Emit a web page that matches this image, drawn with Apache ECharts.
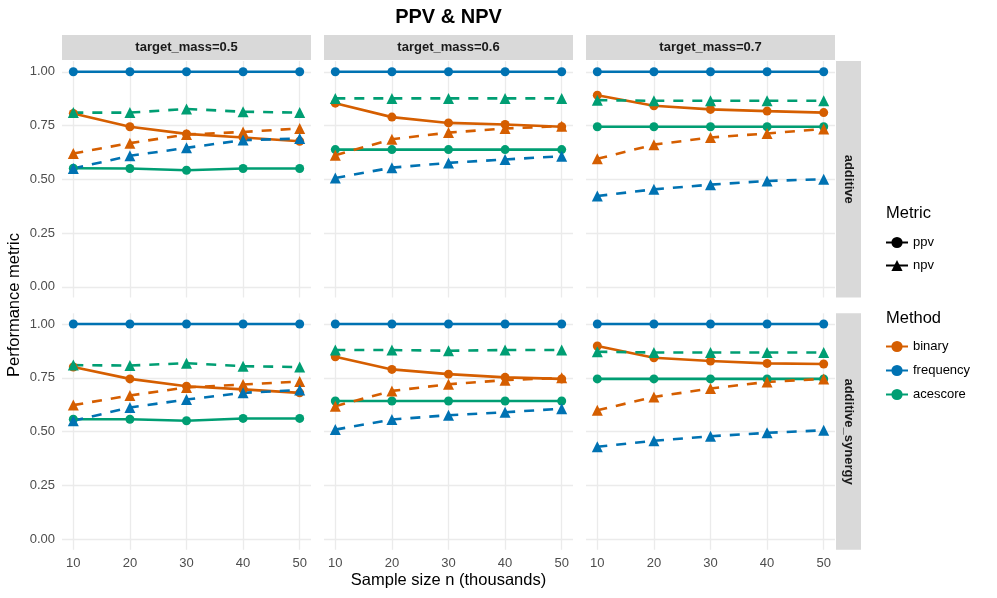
<!DOCTYPE html>
<html><head><meta charset="utf-8">
<script src="https://cdn.jsdelivr.net/npm/echarts@6/dist/echarts.min.js"></script>
<style>html,body{margin:0;padding:0;background:#fff}#c{width:997px;height:598px}</style>
</head><body><div id="c"></div>
<script>
const sampleSizes = [10, 20, 30, 40, 50];
const xTicks = [10, 20, 30, 40, 50];
const yTicks = [0, 0.25, 0.5, 0.75, 1.0];
const colLabels = ['target_mass=0.5', 'target_mass=0.6', 'target_mass=0.7'];
const rowLabels = ['additive', 'additive_synergy'];
const methods = ['binary', 'frequency', 'acescore'];
const metrics = ['ppv', 'npv'];

// additive, target_mass=0.5
const add05_binary_ppv = [0.806, 0.744, 0.711, 0.694, 0.677];
const add05_frequency_ppv = [1, 1, 1, 1, 1];
const add05_acescore_ppv = [0.551, 0.550, 0.542, 0.550, 0.550];
const add05_binary_npv = [0.620, 0.668, 0.708, 0.720, 0.736];
const add05_frequency_npv = [0.550, 0.609, 0.646, 0.682, 0.689];
const add05_acescore_npv = [0.810, 0.810, 0.827, 0.814, 0.810];
// additive, target_mass=0.6
const add06_binary_ppv = [0.854, 0.789, 0.762, 0.755, 0.744];
const add06_frequency_ppv = [1, 1, 1, 1, 1];
const add06_acescore_ppv = [0.638, 0.638, 0.638, 0.638, 0.638];
const add06_binary_npv = [0.612, 0.686, 0.717, 0.736, 0.747];
const add06_frequency_npv = [0.506, 0.554, 0.576, 0.592, 0.607];
const add06_acescore_npv = [0.876, 0.876, 0.876, 0.876, 0.876];
// additive, target_mass=0.7
const add07_binary_ppv = [0.891, 0.842, 0.825, 0.817, 0.810];
const add07_frequency_ppv = [1, 1, 1, 1, 1];
const add07_acescore_ppv = [0.744, 0.744, 0.744, 0.744, 0.744];
const add07_binary_npv = [0.595, 0.661, 0.694, 0.713, 0.734];
const add07_frequency_npv = [0.422, 0.453, 0.475, 0.492, 0.500];
const add07_acescore_npv = [0.868, 0.865, 0.865, 0.865, 0.865];
// additive_synergy, target_mass=0.5
const syn05_binary_ppv = [0.800, 0.745, 0.711, 0.696, 0.680];
const syn05_frequency_ppv = [1, 1, 1, 1, 1];
const syn05_acescore_ppv = [0.557, 0.557, 0.550, 0.561, 0.561];
const syn05_binary_npv = [0.623, 0.668, 0.705, 0.719, 0.733];
const syn05_frequency_npv = [0.550, 0.612, 0.649, 0.680, 0.693];
const syn05_acescore_npv = [0.809, 0.807, 0.818, 0.804, 0.800];
// additive_synergy, target_mass=0.6
const syn06_binary_ppv = [0.848, 0.789, 0.767, 0.752, 0.745];
const syn06_frequency_ppv = [1, 1, 1, 1, 1];
const syn06_acescore_ppv = [0.642, 0.642, 0.642, 0.642, 0.642];
const syn06_binary_npv = [0.618, 0.689, 0.720, 0.739, 0.750];
const syn06_frequency_npv = [0.509, 0.556, 0.576, 0.590, 0.606];
const syn06_acescore_npv = [0.879, 0.879, 0.876, 0.879, 0.879];
// additive_synergy, target_mass=0.7
const syn07_binary_ppv = [0.898, 0.843, 0.828, 0.817, 0.814];
const syn07_frequency_ppv = [1, 1, 1, 1, 1];
const syn07_acescore_ppv = [0.745, 0.745, 0.745, 0.745, 0.745];
const syn07_binary_npv = [0.599, 0.661, 0.700, 0.731, 0.745];
const syn07_frequency_npv = [0.429, 0.457, 0.478, 0.494, 0.506];
const syn07_acescore_npv = [0.871, 0.868, 0.868, 0.868, 0.868];

const panelData = [
  [ {binary_ppv: add05_binary_ppv, frequency_ppv: add05_frequency_ppv, acescore_ppv: add05_acescore_ppv,
     binary_npv: add05_binary_npv, frequency_npv: add05_frequency_npv, acescore_npv: add05_acescore_npv},
    {binary_ppv: add06_binary_ppv, frequency_ppv: add06_frequency_ppv, acescore_ppv: add06_acescore_ppv,
     binary_npv: add06_binary_npv, frequency_npv: add06_frequency_npv, acescore_npv: add06_acescore_npv},
    {binary_ppv: add07_binary_ppv, frequency_ppv: add07_frequency_ppv, acescore_ppv: add07_acescore_ppv,
     binary_npv: add07_binary_npv, frequency_npv: add07_frequency_npv, acescore_npv: add07_acescore_npv} ],
  [ {binary_ppv: syn05_binary_ppv, frequency_ppv: syn05_frequency_ppv, acescore_ppv: syn05_acescore_ppv,
     binary_npv: syn05_binary_npv, frequency_npv: syn05_frequency_npv, acescore_npv: syn05_acescore_npv},
    {binary_ppv: syn06_binary_ppv, frequency_ppv: syn06_frequency_ppv, acescore_ppv: syn06_acescore_ppv,
     binary_npv: syn06_binary_npv, frequency_npv: syn06_frequency_npv, acescore_npv: syn06_acescore_npv},
    {binary_ppv: syn07_binary_ppv, frequency_ppv: syn07_frequency_ppv, acescore_ppv: syn07_acescore_ppv,
     binary_npv: syn07_binary_npv, frequency_npv: syn07_frequency_npv, acescore_npv: syn07_acescore_npv} ]
];

const colors = {binary: '#D55E00', frequency: '#0072B2', acescore: '#009E73'};
const FONT = '"Liberation Sans", Arial, Helvetica, sans-serif';
const colLeft = [62, 324, 586];
const rowTop = [61, 313.3];
const PW = 249, PH = 236.5;

const grids = [], xAxes = [], yAxes = [], series = [], graphics = [];
let idx = 0;
for (let r = 0; r < 2; r++) {
  for (let c = 0; c < 3; c++) {
    grids.push({left: colLeft[c], top: rowTop[r], width: PW, height: PH, containLabel: false});
    xAxes.push({
      type: 'value', gridIndex: idx, min: 8, max: 52,
      axisLine: {show: false},
      axisTick: {show: false, customValues: xTicks},
      axisLabel: {show: r === 1, customValues: xTicks, color: '#4D4D4D', fontSize: 13, fontFamily: FONT, margin: 7},
      splitLine: {show: true, lineStyle: {color: '#EBEBEB', width: 1.3}}
    });
    yAxes.push({
      type: 'value', gridIndex: idx, min: -0.05, max: 1.05,
      axisLine: {show: false},
      axisTick: {show: false, customValues: yTicks},
      axisLabel: {show: c === 0, customValues: yTicks, color: '#4D4D4D', fontSize: 13, fontFamily: FONT, margin: 7,
                  formatter: v => v.toFixed(2)},
      splitLine: {show: true, lineStyle: {color: '#EBEBEB', width: 1.3}}
    });
    const pd = panelData[r][c];
    metrics.forEach(mt => {
      methods.forEach(m => {
        const vals = pd[m + '_' + mt];
        series.push({
          type: 'line', name: m + ' ' + mt, xAxisIndex: idx, yAxisIndex: idx,
          data: sampleSizes.map((x, i) => [x, vals[i]]),
          symbol: mt === 'ppv' ? 'circle' : 'triangle',
          symbolSize: mt === 'ppv' ? 9 : 11,
          showSymbol: true,
          lineStyle: {color: colors[m], width: 2.6, type: mt === 'ppv' ? 'solid' : [10, 9]},
          itemStyle: {color: colors[m]},
          z: 3, silent: true, animation: false
        });
      });
    });
    idx++;
  }
}

// legend dummy series
const legendSeries = [
  {name: 'ppv', symbol: 'circle', color: '#000'},
  {name: 'npv', symbol: 'triangle', color: '#000'},
  {name: 'binary', symbol: 'circle', color: colors.binary},
  {name: 'frequency', symbol: 'circle', color: colors.frequency},
  {name: 'acescore', symbol: 'circle', color: colors.acescore}
];
legendSeries.forEach(s => series.push({
  type: 'line', name: s.name, xAxisIndex: 0, yAxisIndex: 0, data: [],
  symbol: s.symbol, symbolSize: 8,
  lineStyle: {color: s.color, width: 2.6}, itemStyle: {color: s.color}
}));

// strips
for (let c = 0; c < 3; c++) {
  graphics.push({type: 'rect', shape: {x: colLeft[c], y: 35, width: PW, height: 25}, style: {fill: '#D9D9D9'}, silent: true});
  graphics.push({type: 'text', x: colLeft[c] + PW / 2, y: 47.5,
    style: {text: colLabels[c], fill: '#1A1A1A', font: 'bold 13px ' + FONT, textAlign: 'center', textVerticalAlign: 'middle'}});
}
for (let r = 0; r < 2; r++) {
  graphics.push({type: 'rect', shape: {x: 836, y: rowTop[r], width: 25, height: PH}, style: {fill: '#D9D9D9'}, silent: true});
  graphics.push({type: 'text', x: 848.5, y: rowTop[r] + PH / 2, rotation: -Math.PI / 2,
    style: {text: rowLabels[r], fill: '#1A1A1A', font: 'bold 13px ' + FONT, textAlign: 'center', textVerticalAlign: 'middle'}});
}
// titles
graphics.push({type: 'text', x: 448.5, y: 17, style: {text: 'PPV & NPV', fill: '#000', font: 'bold 20px ' + FONT, textAlign: 'center', textVerticalAlign: 'middle'}});
graphics.push({type: 'text', x: 448.5, y: 580, style: {text: 'Sample size n (thousands)', fill: '#000', font: '16.5px ' + FONT, textAlign: 'center', textVerticalAlign: 'middle'}});
graphics.push({type: 'text', x: 14, y: 305, rotation: Math.PI / 2, style: {text: 'Performance metric', fill: '#000', font: '16.5px ' + FONT, textAlign: 'center', textVerticalAlign: 'middle'}});
graphics.push({type: 'text', x: 886, y: 213, style: {text: 'Metric', fill: '#000', font: '16.5px ' + FONT, textAlign: 'left', textVerticalAlign: 'middle'}});
graphics.push({type: 'text', x: 886, y: 318, style: {text: 'Method', fill: '#000', font: '16.5px ' + FONT, textAlign: 'left', textVerticalAlign: 'middle'}});

const chart = echarts.init(document.getElementById('c'), null, {renderer: 'canvas'});
chart.setOption({
  animation: false,
  backgroundColor: '#fff',
  grid: grids, xAxis: xAxes, yAxis: yAxes, series: series, graphic: graphics,
  legend: [
    {data: metrics, orient: 'vertical', left: 885, top: 236, padding: 0, itemWidth: 22, itemHeight: 14, itemGap: 10,
     textStyle: {color: '#000', fontSize: 13, fontFamily: FONT}, selectedMode: false},
    {data: methods, orient: 'vertical', left: 885, top: 340, padding: 0, itemWidth: 22, itemHeight: 14, itemGap: 11,
     textStyle: {color: '#000', fontSize: 13, fontFamily: FONT}, selectedMode: false}
  ]
});
</script></body></html>
